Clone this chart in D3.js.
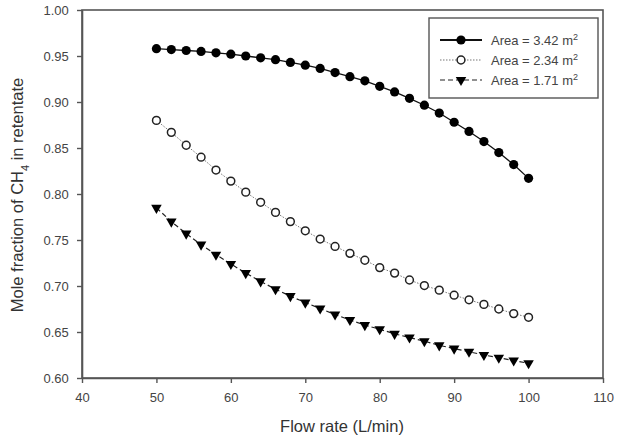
<!DOCTYPE html>
<html><head><meta charset="utf-8">
<script src="https://cdn.jsdelivr.net/npm/d3@7"></script>
<style>body{margin:0;background:#fff}svg{display:block}text{font-family:Arial,"Liberation Sans",sans-serif}</style>
</head><body>
<svg id="c" width="623" height="436"></svg>
<script>
const flowRate = [50,52,54,56,58,60,62,64,66,68,70,72,74,76,78,80,82,84,86,88,90,92,94,96,98,100];
const area342 = [0.958,0.957,0.956,0.955,0.9535,0.952,0.950,0.948,0.946,0.943,0.940,0.9365,0.932,0.9275,0.923,0.917,0.911,0.904,0.8965,0.888,0.878,0.868,0.857,0.845,0.832,0.817];
const area234 = [0.880,0.867,0.853,0.840,0.826,0.814,0.802,0.791,0.780,0.770,0.760,0.751,0.743,0.7355,0.728,0.720,0.714,0.7065,0.7005,0.6955,0.690,0.685,0.680,0.675,0.670,0.666];
const area171 = [0.785,0.770,0.757,0.745,0.734,0.724,0.714,0.705,0.6965,0.689,0.682,0.6755,0.669,0.663,0.6575,0.653,0.648,0.644,0.640,0.6355,0.632,0.6285,0.625,0.622,0.619,0.616];
const seriesNames = ["Area = 3.42 m", "Area = 2.34 m", "Area = 1.71 m"];
const xTicks = [40,50,60,70,80,90,100,110];
const yTicks = [0.60,0.65,0.70,0.75,0.80,0.85,0.90,0.95,1.00];

const svg = d3.select("#c");
const L=82, T=10, R=603, B=378;
const x = d3.scaleLinear().domain([40,110]).range([L,R]);
const y = d3.scaleLinear().domain([0.60,1.00]).range([B,T]);
const axisCol = "#555";

// frame
svg.append("rect").attr("x",L).attr("y",T).attr("width",R-L).attr("height",B-T)
  .attr("fill","none").attr("stroke",axisCol).attr("stroke-width",1.6);

const xa = svg.append("g").attr("transform",`translate(0,${B})`)
  .call(d3.axisBottom(x).tickValues(xTicks).tickFormat(d3.format("d")).tickSize(5).tickSizeOuter(0));
const ya = svg.append("g").attr("transform",`translate(${L},0)`)
  .call(d3.axisLeft(y).tickValues(yTicks).tickFormat(d3.format(".2f")).tickSize(5).tickSizeOuter(0));
[xa,ya].forEach(a=>{
  a.select(".domain").attr("stroke",axisCol).attr("stroke-width",1.6);
  a.selectAll(".tick line").attr("stroke",axisCol).attr("stroke-width",1.4);
  a.selectAll(".tick text").attr("fill","#444").style("font-size","13px");
});
xa.selectAll(".tick text").attr("dy","1.2em");
ya.selectAll(".tick text").attr("dx","-0.4em");

// axis labels
svg.append("text").attr("x",342).attr("y",432).attr("text-anchor","middle")
  .attr("fill","#333").style("font-size","16.5px").text("Flow rate (L/min)");
const yl = svg.append("text").attr("transform",`translate(23,195) rotate(-90)`)
  .attr("text-anchor","middle").attr("fill","#333").style("font-size","16.5px");
yl.append("tspan").text("Mole fraction of CH");
yl.append("tspan").attr("baseline-shift","sub").style("font-size","11px").text("4");
yl.append("tspan").text(" in retentate");

const data = [area342, area234, area171];
const lineStyles = [
  {stroke:"#111", dash:null, width:1.3},
  {stroke:"#777", dash:"1.5,1.5", width:1},
  {stroke:"#222", dash:"5,3", width:1.2}
];
const line = d3.line().x((d,i)=>x(flowRate[i])).y(d=>y(d));
data.forEach((s,k)=>{
  svg.append("path").datum(s).attr("d",line).attr("fill","none")
    .attr("stroke",lineStyles[k].stroke).attr("stroke-width",lineStyles[k].width)
    .attr("stroke-dasharray",lineStyles[k].dash);
});
const tri = d3.symbol().type(d3.symbolTriangle).size(48);
function marker(g,k,cx,cy){
  if(k===0) g.append("circle").attr("cx",cx).attr("cy",cy).attr("r",4.6).attr("fill","#000");
  else if(k===1) g.append("circle").attr("cx",cx).attr("cy",cy).attr("r",3.9).attr("fill","#fff").attr("stroke","#222").attr("stroke-width",1.5);
  else g.append("path").attr("d",tri).attr("transform",`translate(${cx},${cy}) rotate(180)`).attr("fill","#000");
}
data.forEach((s,k)=>{
  const g = svg.append("g");
  s.forEach((v,i)=>marker(g,k,x(flowRate[i]),y(v)));
});

// legend
const lg = svg.append("g");
lg.append("rect").attr("x",429).attr("y",18).attr("width",169).attr("height",80)
  .attr("fill","#fff").attr("stroke",axisCol).attr("stroke-width",1.4);
seriesNames.forEach((n,k)=>{
  const yy = 40 + k*20;
  lg.append("line").attr("x1",440).attr("x2",482).attr("y1",yy).attr("y2",yy)
    .attr("stroke",lineStyles[k].stroke).attr("stroke-width",k===0?1.8:1.2)
    .attr("stroke-dasharray",lineStyles[k].dash);
  marker(lg,k,461,yy);
  const t = lg.append("text").attr("x",491).attr("y",yy+4.5).attr("fill","#444").style("font-size","13px");
  t.append("tspan").text(n);
  t.append("tspan").attr("baseline-shift","super").style("font-size","9px").text("2");
});
</script>
</body></html>
